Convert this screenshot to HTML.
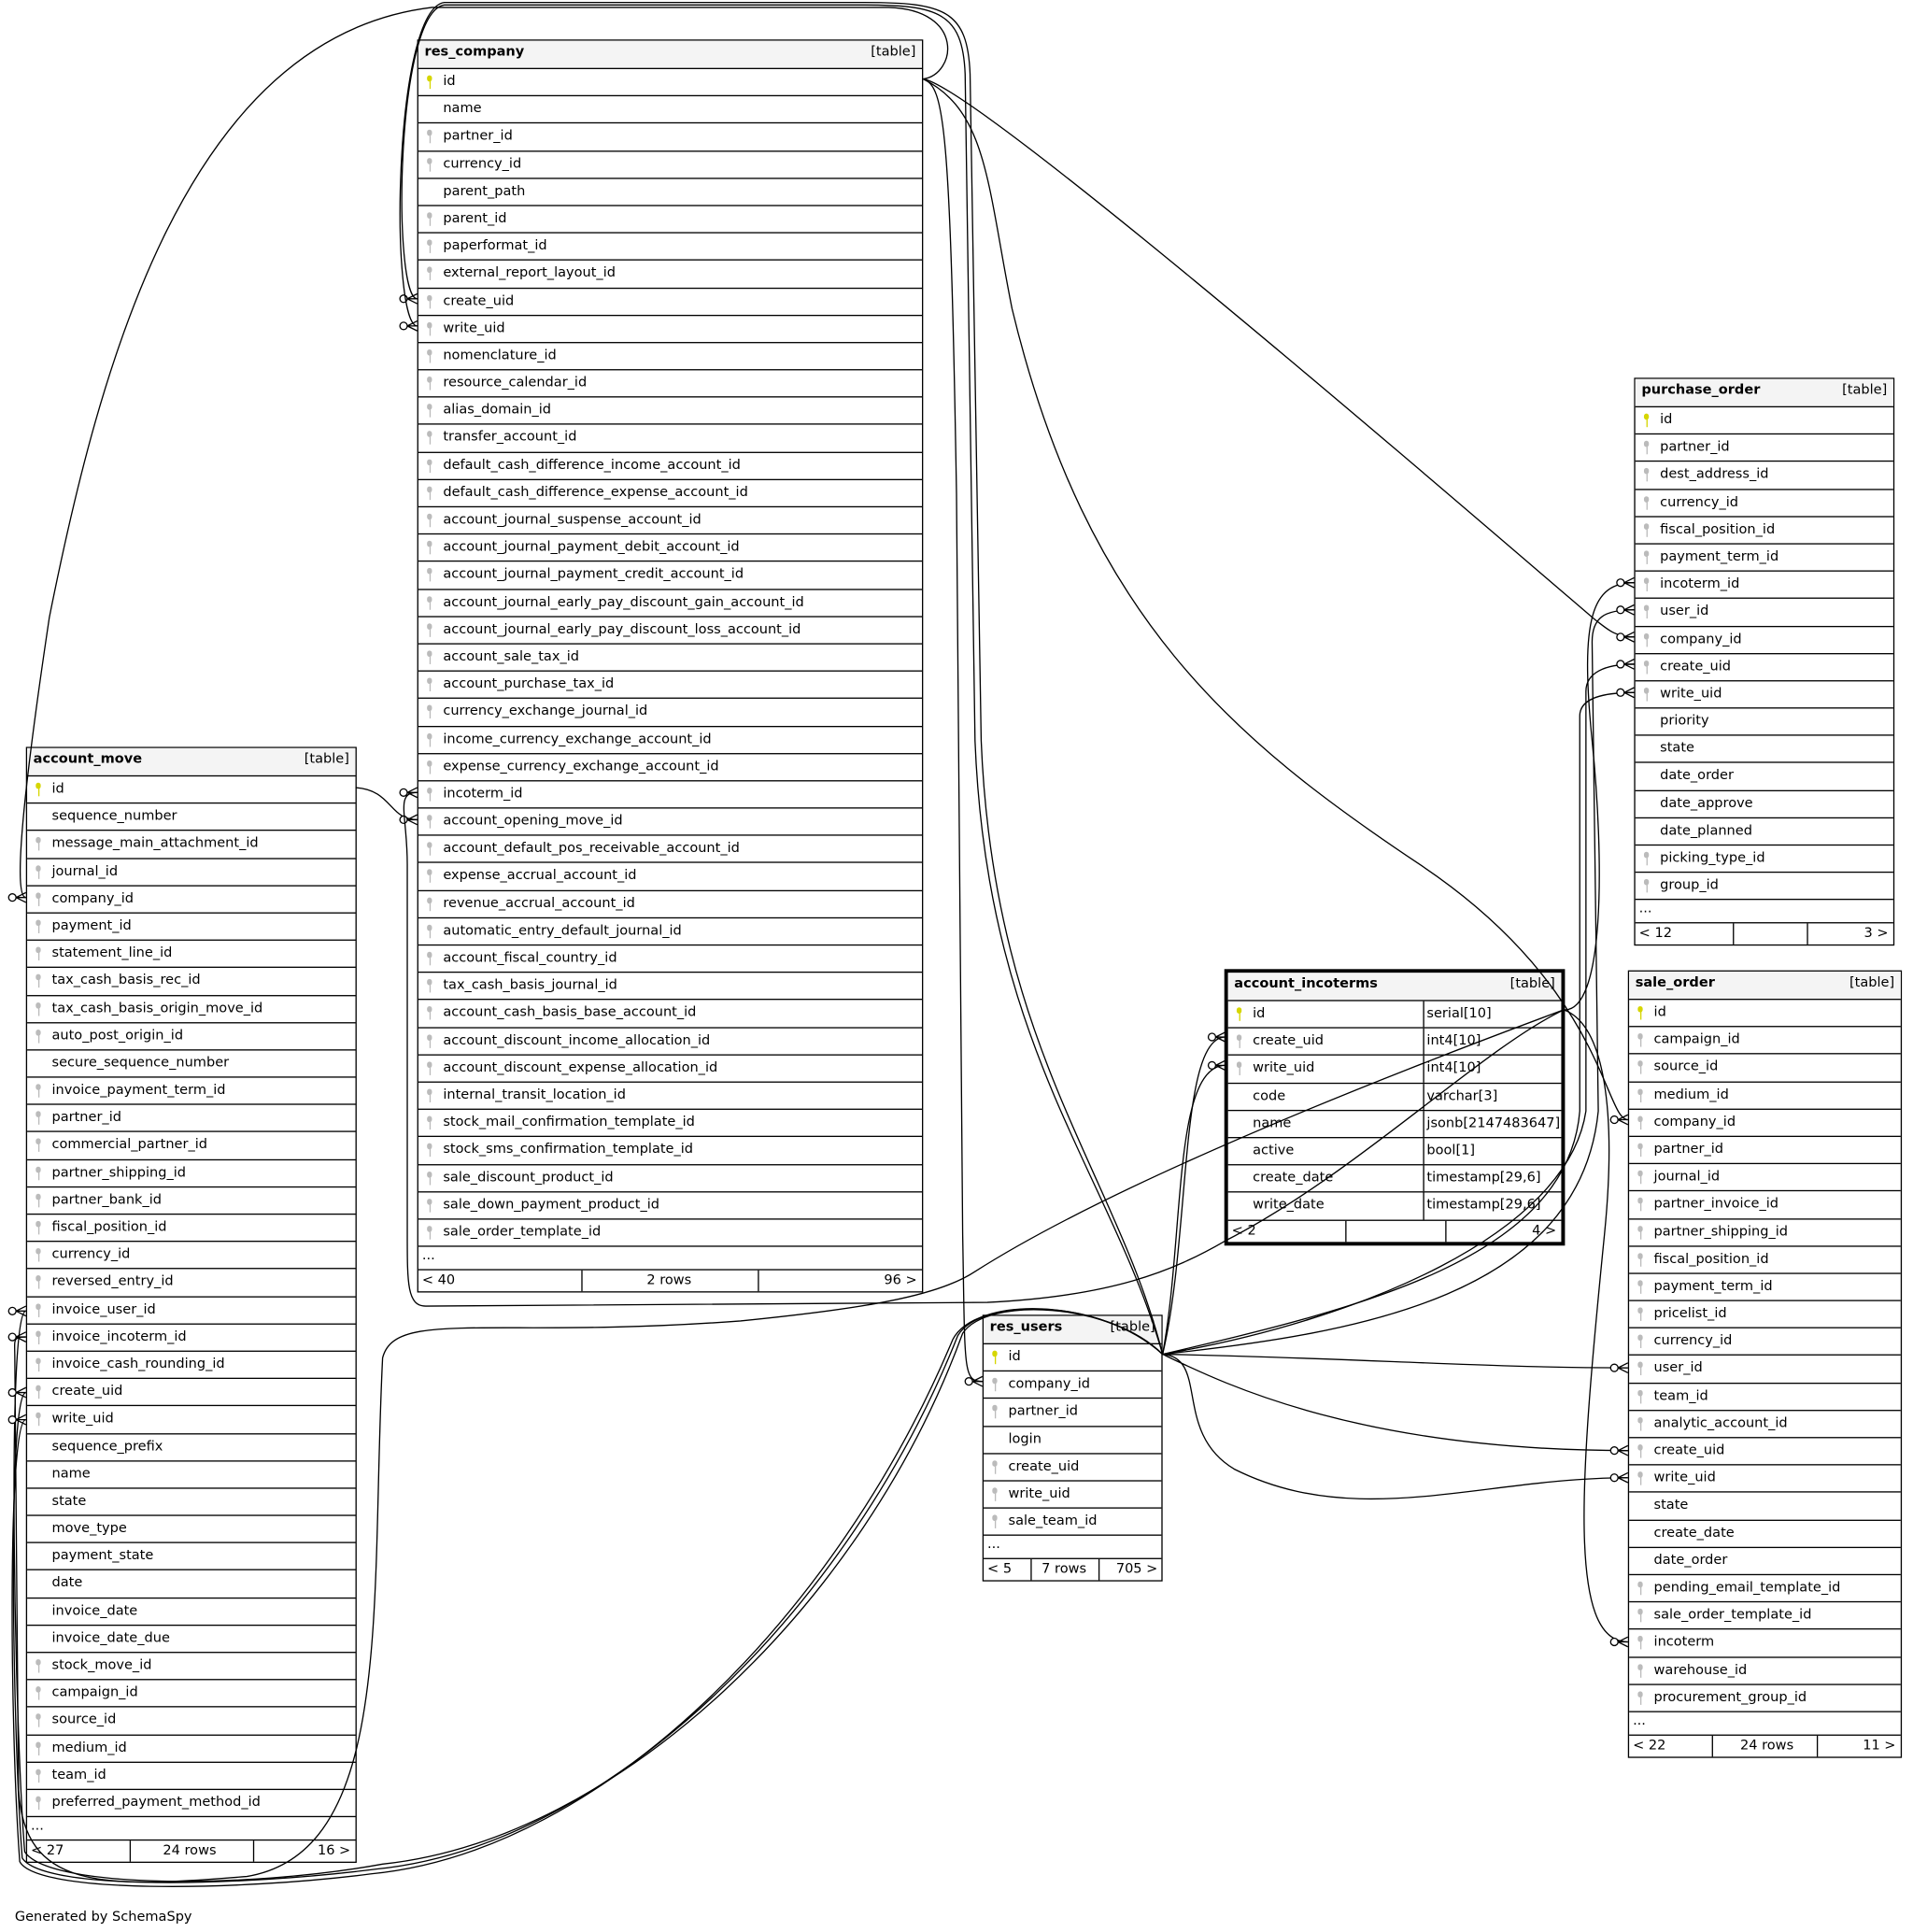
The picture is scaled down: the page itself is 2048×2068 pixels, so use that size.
<!DOCTYPE html>
<html><head><meta charset="utf-8"><style>
html,body{margin:0;padding:0;background:#fff;width:2048px;height:2068px;overflow:hidden}
#w{position:absolute;left:0;top:0;width:1550px;height:1565px;transform:scale(1.32129,1.32141);transform-origin:0 0;font-family:"DejaVu Sans","Liberation Sans",sans-serif;font-size:11px;color:#000}
.t{position:absolute;border:1.5px solid #000;background:#fff;box-sizing:border-box}
.t.b{border-width:3px}
.h{height:22px;background:#f4f4f4;font-weight:bold;padding-left:5px;line-height:18px;position:relative}
.h span{position:absolute;right:5px;top:0;font-weight:normal}
.r{height:22.2px;border-top:1.6px solid #000;box-sizing:border-box;line-height:20px;padding-left:20px;position:relative;white-space:nowrap}
.r i{position:absolute;left:158px;top:0;bottom:0;border-left:1px solid #000;padding-left:2px;font-style:normal}
.k::before{content:"";position:absolute;left:7px;top:5px;width:4px;height:5px;border-radius:2px;background:#bbb}
.k::after{content:"";position:absolute;left:8.5px;top:9px;width:1.3px;height:7px;background:#bbb}
.p::before,.p::after{background:#d6d600}
.d{height:19px;border-top:1.6px solid #000;box-sizing:border-box;padding-left:3px;line-height:14px}
.f{height:18px;border-top:1.6px solid #000;box-sizing:border-box;position:relative;line-height:16px}
.f span{position:absolute;top:0}
.f b{position:absolute;top:0;bottom:0;border-left:1px solid #000}
svg{position:absolute;left:0;top:0}
.g{position:absolute;left:12px;top:1546px}
</style></head><body><div id="w">

<div class="t" style="left:338px;top:32px;width:410px">
<div class="h">res_company<span>[table]</span></div>
<div class="r k p">id</div><div class="r">name</div><div class="r k">partner_id</div><div class="r k">currency_id</div><div class="r">parent_path</div><div class="r k">parent_id</div><div class="r k">paperformat_id</div><div class="r k">external_report_layout_id</div><div class="r k">create_uid</div><div class="r k">write_uid</div><div class="r k">nomenclature_id</div><div class="r k">resource_calendar_id</div><div class="r k">alias_domain_id</div><div class="r k">transfer_account_id</div><div class="r k">default_cash_difference_income_account_id</div><div class="r k">default_cash_difference_expense_account_id</div><div class="r k">account_journal_suspense_account_id</div><div class="r k">account_journal_payment_debit_account_id</div><div class="r k">account_journal_payment_credit_account_id</div><div class="r k">account_journal_early_pay_discount_gain_account_id</div><div class="r k">account_journal_early_pay_discount_loss_account_id</div><div class="r k">account_sale_tax_id</div><div class="r k">account_purchase_tax_id</div><div class="r k">currency_exchange_journal_id</div><div class="r k">income_currency_exchange_account_id</div><div class="r k">expense_currency_exchange_account_id</div><div class="r k">incoterm_id</div><div class="r k">account_opening_move_id</div><div class="r k">account_default_pos_receivable_account_id</div><div class="r k">expense_accrual_account_id</div><div class="r k">revenue_accrual_account_id</div><div class="r k">automatic_entry_default_journal_id</div><div class="r k">account_fiscal_country_id</div><div class="r k">tax_cash_basis_journal_id</div><div class="r k">account_cash_basis_base_account_id</div><div class="r k">account_discount_income_allocation_id</div><div class="r k">account_discount_expense_allocation_id</div><div class="r k">internal_transit_location_id</div><div class="r k">stock_mail_confirmation_template_id</div><div class="r k">stock_sms_confirmation_template_id</div><div class="r k">sale_discount_product_id</div><div class="r k">sale_down_payment_product_id</div><div class="r k">sale_order_template_id</div>
<div class="d">...</div>
<div class="f"><span style="left:3px">&lt; 40</span><b style="left:132px"></b><span style="left:185px">2 rows</span><b style="left:275px"></b><span style="right:4px">96 &gt;</span></div>
</div>

<div class="t" style="left:21px;top:605px;width:268px">
<div class="h">account_move<span>[table]</span></div>
<div class="r k p">id</div><div class="r">sequence_number</div><div class="r k">message_main_attachment_id</div><div class="r k">journal_id</div><div class="r k">company_id</div><div class="r k">payment_id</div><div class="r k">statement_line_id</div><div class="r k">tax_cash_basis_rec_id</div><div class="r k">tax_cash_basis_origin_move_id</div><div class="r k">auto_post_origin_id</div><div class="r">secure_sequence_number</div><div class="r k">invoice_payment_term_id</div><div class="r k">partner_id</div><div class="r k">commercial_partner_id</div><div class="r k">partner_shipping_id</div><div class="r k">partner_bank_id</div><div class="r k">fiscal_position_id</div><div class="r k">currency_id</div><div class="r k">reversed_entry_id</div><div class="r k">invoice_user_id</div><div class="r k">invoice_incoterm_id</div><div class="r k">invoice_cash_rounding_id</div><div class="r k">create_uid</div><div class="r k">write_uid</div><div class="r">sequence_prefix</div><div class="r">name</div><div class="r">state</div><div class="r">move_type</div><div class="r">payment_state</div><div class="r">date</div><div class="r">invoice_date</div><div class="r">invoice_date_due</div><div class="r k">stock_move_id</div><div class="r k">campaign_id</div><div class="r k">source_id</div><div class="r k">medium_id</div><div class="r k">team_id</div><div class="r k">preferred_payment_method_id</div>
<div class="d">...</div>
<div class="f"><span style="left:3px">&lt; 27</span><b style="left:83px"></b><span style="left:110px">24 rows</span><b style="left:183px"></b><span style="right:4px">16 &gt;</span></div>
</div>

<div class="t" style="left:1324px;top:306px;width:211px">
<div class="h">purchase_order<span>[table]</span></div>
<div class="r k p">id</div><div class="r k">partner_id</div><div class="r k">dest_address_id</div><div class="r k">currency_id</div><div class="r k">fiscal_position_id</div><div class="r k">payment_term_id</div><div class="r k">incoterm_id</div><div class="r k">user_id</div><div class="r k">company_id</div><div class="r k">create_uid</div><div class="r k">write_uid</div><div class="r">priority</div><div class="r">state</div><div class="r">date_order</div><div class="r">date_approve</div><div class="r">date_planned</div><div class="r k">picking_type_id</div><div class="r k">group_id</div>
<div class="d">...</div>
<div class="f"><span style="left:3px">&lt; 12</span><b style="left:79px"></b><b style="left:139px"></b><span style="right:4px">3 &gt;</span></div>
</div>

<div class="t b" style="left:992px;top:785px;width:276px">
<div class="h">account_incoterms<span>[table]</span></div>
<div class="r k p">id<i>serial[10]</i></div><div class="r k">create_uid<i>int4[10]</i></div><div class="r k">write_uid<i>int4[10]</i></div><div class="r">code<i>varchar[3]</i></div><div class="r">name<i>jsonb[2147483647]</i></div><div class="r">active<i>bool[1]</i></div><div class="r">create_date<i>timestamp[29,6]</i></div><div class="r">write_date<i>timestamp[29,6]</i></div>
<div class="f"><span style="left:3px">&lt; 2</span><b style="left:95px"></b><b style="left:176px"></b><span style="right:4px">4 &gt;</span></div>
</div>

<div class="t" style="left:1319px;top:786px;width:222px">
<div class="h">sale_order<span>[table]</span></div>
<div class="r k p">id</div><div class="r k">campaign_id</div><div class="r k">source_id</div><div class="r k">medium_id</div><div class="r k">company_id</div><div class="r k">partner_id</div><div class="r k">journal_id</div><div class="r k">partner_invoice_id</div><div class="r k">partner_shipping_id</div><div class="r k">fiscal_position_id</div><div class="r k">payment_term_id</div><div class="r k">pricelist_id</div><div class="r k">currency_id</div><div class="r k">user_id</div><div class="r k">team_id</div><div class="r k">analytic_account_id</div><div class="r k">create_uid</div><div class="r k">write_uid</div><div class="r">state</div><div class="r">create_date</div><div class="r">date_order</div><div class="r k">pending_email_template_id</div><div class="r k">sale_order_template_id</div><div class="r k">incoterm</div><div class="r k">warehouse_id</div><div class="r k">procurement_group_id</div>
<div class="d">...</div>
<div class="f"><span style="left:3px">&lt; 22</span><b style="left:67px"></b><span style="left:90px">24 rows</span><b style="left:152px"></b><span style="right:4px">11 &gt;</span></div>
</div>

<div class="t" style="left:796px;top:1065px;width:146px">
<div class="h">res_users<span>[table]</span></div>
<div class="r k p">id</div><div class="r k">company_id</div><div class="r k">partner_id</div><div class="r">login</div><div class="r k">create_uid</div><div class="r k">write_uid</div><div class="r k">sale_team_id</div>
<div class="d">...</div>
<div class="f"><span style="left:3px">&lt; 5</span><b style="left:38px"></b><span style="left:47px">7 rows</span><b style="left:93px"></b><span style="right:3px">705 &gt;</span></div>
</div>

<svg width="1550" height="1565" viewBox="0 0 1550 1565">
<defs><marker id="m" markerUnits="userSpaceOnUse" markerWidth="20" markerHeight="12" viewBox="-16 -6 20 12" refX="0" refY="0" orient="auto">
<path d="M-8,0 L0,-4 M-8,0 L0,0 M-8,0 L0,4" stroke="#000" stroke-width="1" fill="none"/><circle cx="-11" cy="0" r="3" fill="#fff" stroke="#000" stroke-width="1"/></marker></defs>
<g fill="none" stroke="#000" stroke-width="1" marker-end="url(#m)">
<path d="M748,64 C775,60 782,8 720,6 L350,6 C150,30 80,300 40,500 C25,600 8,727 21,727"/>
<path d="M942,1097 C900,950 800,850 790,600 L782,60 C780,10 760,4 700,4 L360,4 C320,10 318,242 338,242"/>
<path d="M942,1097 C905,950 805,850 795,600 L786,60 C784,8 765,2 700,2 L360,2 C318,8 316,264 338,264"/>
<path d="M748,64 C765,70 770,100 775,400 L780,1000 C782,1110 780,1119 796,1119"/>
<path d="M748,64 C790,70 1150,380 1290,500 C1305,512 1310,516 1324,516"/>
<path d="M748,64 C800,90 800,150 820,250 C880,500 1000,600 1150,700 C1300,800 1300,907 1319,907"/>
<path d="M288,638 C318,640 315,664 338,664"/>
<path d="M1267,818 C1200,850 1100,950 993,1005 C950,1030 900,1050 800,1055 L345,1058 C330,1058 330,1040 330,1000 L330,700 C330,660 320,642 338,642"/>
<path d="M1267,818 C1100,880 900,960 790,1030 C760,1050 700,1060 600,1070 C400,1085 320,1060 310,1100 C300,1300 320,1500 200,1520 C80,1530 20,1530 15,1450 L12,1100 C12,1085 10,1083 21,1083"/>
<path d="M1267,818 C1300,820 1300,700 1290,600 C1280,500 1290,472 1324,472"/>
<path d="M1267,818 C1300,830 1310,900 1300,1000 C1280,1200 1270,1330 1319,1330"/>
<path d="M942,1097 C965,1000 955,840 993,840"/>
<path d="M942,1097 C960,1000 950,863 993,863"/>
<path d="M942,1097 C1100,1080 1280,1050 1295,900 L1290,520 C1290,500 1300,494 1324,494"/>
<path d="M942,1097 C1100,1070 1270,1000 1285,900 L1285,560 C1285,545 1300,538 1324,538"/>
<path d="M942,1097 C1100,1060 1270,1020 1280,900 L1280,580 C1280,565 1300,561 1324,561"/>
<path d="M942,1097 C1100,1100 1200,1108 1319,1108"/>
<path d="M942,1097 C990,1120 1100,1175 1319,1175"/>
<path d="M942,1097 C980,1100 950,1160 1000,1190 C1100,1240 1200,1197 1319,1197"/>
<path d="M942,1097 C900,1055 800,1050 780,1080 C700,1300 500,1490 310,1510 C200,1530 40,1530 20,1500 C12,1400 5,1062 21,1062"/>
<path d="M942,1097 C895,1052 795,1050 776,1082 C690,1300 495,1495 305,1514 C195,1528 35,1532 18,1505 C10,1400 6,1128 21,1128"/>
<path d="M942,1097 C890,1050 790,1050 772,1085 C680,1305 490,1500 300,1518 C190,1532 30,1534 16,1508 C8,1400 6,1150 21,1150"/>
</g></svg>
<div class="g">Generated by SchemaSpy</div>
</div></body></html>
